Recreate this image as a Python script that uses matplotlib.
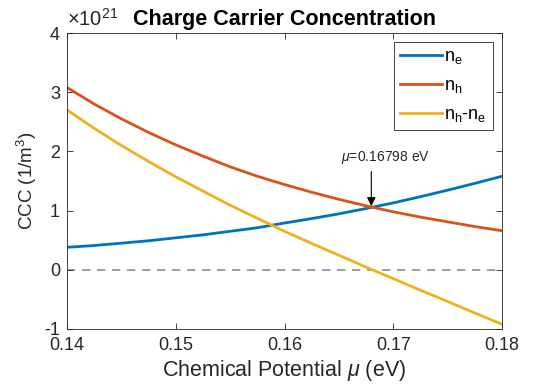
import matplotlib
matplotlib.use("Agg")
import matplotlib.pyplot as plt

# ---- data (units of 1e21 m^-3) ----
mu = [0.1400, 0.1425, 0.1450, 0.1475, 0.1500, 0.1525, 0.1550, 0.1575, 0.1600,
      0.1625, 0.1650, 0.1675, 0.1700, 0.1725, 0.1750, 0.1775, 0.1800]
n_e = [0.38, 0.41, 0.45, 0.49, 0.54, 0.59, 0.65, 0.71, 0.79,
       0.865, 0.945, 1.035, 1.13, 1.235, 1.345, 1.46, 1.58]
n_h = [3.08, 2.80, 2.55, 2.32, 2.11, 1.92, 1.74, 1.58, 1.44,
       1.31, 1.19, 1.08, 0.98, 0.89, 0.81, 0.73, 0.66]
n_diff = [2.70, 2.39, 2.10, 1.83, 1.57, 1.33, 1.09, 0.87, 0.65,
          0.445, 0.245, 0.045, -0.15, -0.345, -0.535, -0.73, -0.92]
mu_cross = 0.16798
n_cross = 1.055

x_ticks = [0.14, 0.15, 0.16, 0.17, 0.18]
y_ticks = [-1, 0, 1, 2, 3, 4]

plt.rcParams["font.family"] = ["Liberation Sans", "DejaVu Sans"]
plt.rcParams["mathtext.fontset"] = "custom"
plt.rcParams["mathtext.rm"] = "Liberation Sans"
plt.rcParams["mathtext.it"] = "Liberation Sans:italic"
plt.rcParams["axes.unicode_minus"] = False

axcol = "#262626"
fig = plt.figure(figsize=(5.36, 3.91), dpi=100)
ax = fig.add_axes([0.125, 0.1586, 0.8116, 0.757])

ax.plot(mu, n_e, color="#0072BD", lw=2, label=r"$\mathregular{n_e}$")
ax.plot(mu, n_h, color="#D95319", lw=2, label=r"$\mathregular{n_h}$")
ax.plot(mu, n_diff, color="#EDB120", lw=2, label=r"$\mathregular{n_h}$-$\mathregular{n_e}$")
ax.axhline(0, color="#8c8c8c", lw=1.2, ls=(0, (5, 4)), zorder=0.5)

# arrow marking where n_h = n_e
ax.annotate("", xy=(mu_cross, n_cross + 0.02), xytext=(mu_cross, 1.66),
            arrowprops=dict(arrowstyle="-|>", color="black", lw=0.8,
                            mutation_scale=13, shrinkA=0, shrinkB=0))
ax.text(mu_cross + 0.0013, 1.76, r"$\mathit{\mu}$=0.16798 eV", fontsize=10,
        ha="center", va="bottom", color=axcol)

ax.set_xlim(0.14, 0.18)
ax.set_ylim(-1, 4)
ax.set_xticks(x_ticks)
ax.set_xticklabels([f"{t:.2f}" for t in x_ticks])
ax.set_yticks(y_ticks)
ax.tick_params(direction="in", top=True, right=True, labelsize=13,
               colors=axcol, length=4, width=0.6)
ax.tick_params(axis="x", pad=6)
ax.tick_params(axis="y", pad=5)
for s in ax.spines.values():
    s.set_color(axcol)
    s.set_linewidth(0.6)

ax.set_xlabel(r"Chemical Potential $\mathit{\mu}$ (eV)", fontsize=15.5, color=axcol, labelpad=3)
ax.set_ylabel(r"CCC (1/m$^3$)", fontsize=13.5, color=axcol, labelpad=4)
ax.set_title("Charge Carrier Concentration", fontsize=15.5, fontweight="bold", pad=6)
ax.text(0.0, 1.01, r"$\times\mathregular{10^{21}}$", transform=ax.transAxes,
        fontsize=14.5, color=axcol, ha="left", va="bottom")

leg = ax.legend(loc="upper right", fontsize=13, handlelength=2.3,
                handletextpad=0.15, borderpad=0.35, labelspacing=0.6,
                fancybox=False, framealpha=1, borderaxespad=0.5)
leg.get_frame().set_edgecolor(axcol)
leg.get_frame().set_linewidth(0.6)

fig.savefig("out.png", dpi=100)
